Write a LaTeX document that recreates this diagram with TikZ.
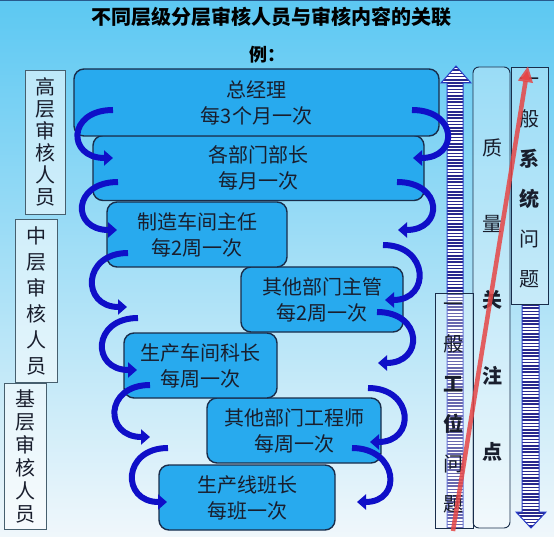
\documentclass[tikz,border=0pt]{standalone}
\usepackage{fontspec}
\setmainfont{Noto Sans CJK SC}
\usetikzlibrary{arrows.meta}
\definecolor{bgtop}{RGB}{92,200,242}
\definecolor{bgmid}{RGB}{175,225,246}
\definecolor{bgbot}{RGB}{240,247,251}
\definecolor{topline}{RGB}{40,90,140}
\definecolor{boxfill}{RGB}{40,170,238}
\definecolor{boxline}{RGB}{25,45,75}
\definecolor{arrowblue}{RGB}{15,15,200}
\definecolor{stripe}{RGB}{40,40,140}
\definecolor{stripeline}{RGB}{40,60,200}
\definecolor{txt}{RGB}{25,30,45}
\definecolor{redline}{RGB}{230,70,70}
\definecolor{lblline}{RGB}{70,95,110}
\begin{document}
\begin{tikzpicture}[x=1pt,y=-1pt,
  rolebox/.style={draw=boxline, line width=1.4pt, fill=boxfill, rounded corners=10pt,
    align=center, text=txt, font=\fontsize{20}{26}\selectfont, inner sep=0pt},
  lblbox/.style={draw=lblline, line width=0.8pt, fill=white, fill opacity=0.55, text opacity=1,
    align=center, text=txt, font=\fontsize{20}{22}\selectfont, inner sep=0pt},
  colbox/.style={draw=boxline, line width=0.9pt, fill=white, fill opacity=0.3},
  coltext/.style={align=center, text=txt, inner sep=0pt},
  curv/.style={draw=arrowblue, line width=6pt, -{Triangle[length=9pt,width=15pt]}},
]
\useasboundingbox (0,0) rectangle (554,537);
\shade[top color=bgtop, middle color=bgmid, bottom color=bgbot] (0,0) rectangle (554,537);
\fill[topline] (0,0) rectangle (554,1.5);

% title
\node[font=\bfseries\fontsize{20}{24}\selectfont, text=black] (title) at (271,17) {不同层级分层审核人员与审核内容的关联};
\node[font=\bfseries\fontsize{18}{22}\selectfont, text=black] (eg) at (267,55) {例：};

% left labels
\node[lblbox, minimum width=40pt, minimum height=144pt] (lh) at (45,142) {高\\层\\审\\核\\人\\员};
\node[lblbox, minimum width=42pt, minimum height=163pt, font=\fontsize{20}{26}\selectfont] (lm) at (36,300.5) {中\\层\\审\\核\\人\\员};
\node[lblbox, minimum width=42pt, minimum height=146pt, font=\fontsize{20}{23}\selectfont] (ll) at (25,456) {基\\层\\审\\核\\人\\员};

% striped up arrow
\begin{scope}
\clip (447,528) -- (447,83) -- (441,83) -- (456,66) -- (471,83) -- (463,83) -- (463,528) -- cycle;
\fill[white] (430,60) rectangle (480,530);
\foreach \yy in {67,70.2,...,530} \draw[stripe, line width=1.5pt] (430,\yy) -- (480,\yy);
\end{scope}
\draw[stripeline, line width=1pt] (447,528) -- (447,83) -- (441,83) -- (456,66) -- (471,83) -- (463,83) -- (463,528);

% striped down arrow
\begin{scope}
\clip (522,304) -- (522,512) -- (516,512) -- (531,528) -- (546,512) -- (539,512) -- (539,304) -- cycle;
\fill[white] (510,300) rectangle (550,530);
\foreach \yy in {305,308.2,...,530} \draw[stripe, line width=1.5pt] (510,\yy) -- (550,\yy);
\end{scope}
\draw[stripeline, line width=1pt] (522,304) -- (522,512) -- (516,512) -- (531,528) -- (546,512) -- (539,512) -- (539,304);

% right column boxes
\node[colbox, rounded corners=6pt, minimum width=37pt, minimum height=461pt] (qb) at (491.5,297.5) {};
\node[coltext, font=\fontsize{20}{76}\selectfont] (qt) at (492,300) {质\\量\\{\bfseries 关}\\{\bfseries 注}\\{\bfseries 点}};
\node[colbox, minimum width=37pt, minimum height=237pt] (sb) at (529.5,185.5) {};
\node[coltext, font=\fontsize{20}{40}\selectfont] (st) at (529,183) {一\\般\\{\bfseries 系}\\{\bfseries 统}\\问\\题};
\node[colbox, minimum width=38pt, minimum height=235pt] (wb) at (454,410.5) {};
\node[coltext, font=\fontsize{20}{40}\selectfont] (wt) at (453,407.5) {一\\般\\{\bfseries 工}\\{\bfseries 位}\\问\\题};

% role boxes
\node[rolebox, minimum width=176pt, minimum height=65pt] (b7) at (247,497.5) {生产线班长\\每班一次};
\node[rolebox, minimum width=174pt, minimum height=65pt] (b6) at (294,430.5) {其他部门工程师\\每周一次};
\node[rolebox, minimum width=153pt, minimum height=65pt] (b5) at (200.5,365.5) {生产车间科长\\每周一次};
\node[rolebox, minimum width=162pt, minimum height=65pt] (b4) at (322,299.5) {其他部门主管\\每2周一次};
\node[rolebox, minimum width=180pt, minimum height=65pt] (b3) at (197,234.5) {制造车间主任\\每2周一次};
\node[rolebox, minimum width=331pt, minimum height=65pt] (b2) at (258.5,168) {各部门部长\\每月一次};
\node[rolebox, minimum width=365pt, minimum height=67pt] (b1) at (256.5,102.5) {总经理\\每3个月一次};

% curved arrows endpoints
\coordinate (l1s) at (113,110); \coordinate (l1e) at (113,158);
\coordinate (l2s) at (118,182); \coordinate (l2e) at (117,230);
\coordinate (l3s) at (128,253); \coordinate (l3e) at (127,307);
\coordinate (l4s) at (138,318); \coordinate (l4e) at (137,370);
\coordinate (l5s) at (150,385); \coordinate (l5e) at (150,437);
\coordinate (l6s) at (168,448); \coordinate (l6e) at (167,502);
\coordinate (r1s) at (412,110); \coordinate (r1e) at (413,158);
\coordinate (r2s) at (397,182); \coordinate (r2e) at (398,230);
\coordinate (r3s) at (383,245); \coordinate (r3e) at (385,300);
\coordinate (r4s) at (377,312); \coordinate (r4e) at (378,363);
\coordinate (r5s) at (368,388); \coordinate (r5e) at (370,442);
\coordinate (r6s) at (352,448); \coordinate (r6e) at (357,502);

\foreach \i in {1,...,6} {
  \draw[curv] (l\i s) .. controls +(-46,0) and +(-46,0) .. (l\i e);
  \draw[curv] (r\i s) .. controls +(46,0) and +(46,0) .. (r\i e);
}

% red arrow
\coordinate (rs) at (453,531);
\coordinate (re) at (528,66);
\draw[redline, draw opacity=0.85, line width=4.5pt, -{Triangle[length=16pt,width=14pt]}] (rs) -- (re);
\end{tikzpicture}
\end{document}
